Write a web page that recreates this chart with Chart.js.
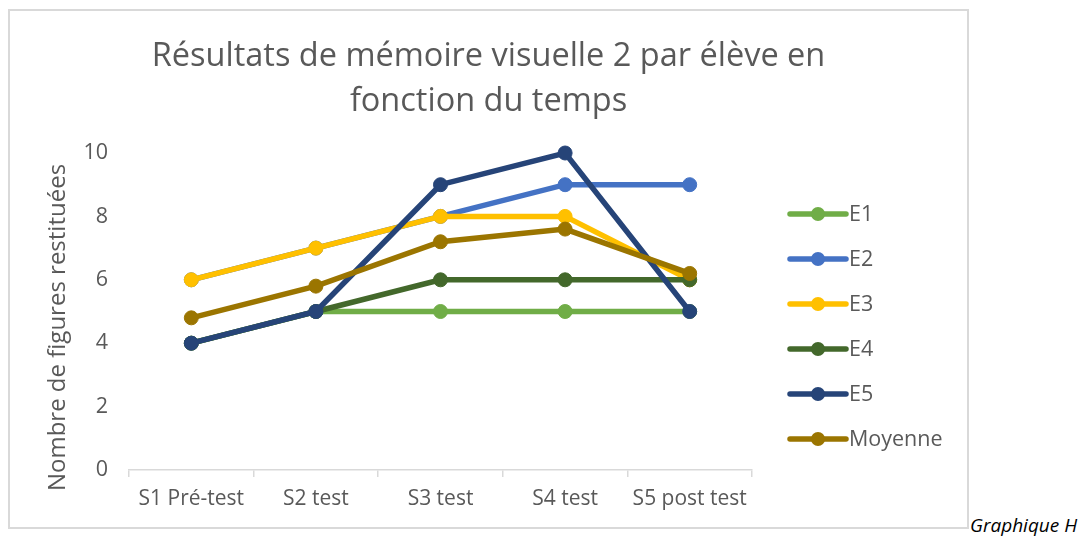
<!DOCTYPE html>
<html>
<head>
<meta charset="utf-8">
<script src="https://cdn.jsdelivr.net/npm/chart.js@4/dist/chart.umd.min.js"></script>
<style>
  html, body { margin: 0; padding: 0; background: #ffffff; }
  body { width: 1082px; height: 536px; position: relative; overflow: hidden; }
  #frame { position: absolute; left: 8px; top: 9px; width: 961px; height: 520px; box-sizing: border-box; border: 2px solid #d9d9d9; }
  #wrap { position: absolute; left: 0; top: 0; width: 957px; height: 516px; }
  #caption { position: absolute; left: 970px; top: 512px; font-family: "Open Sans", "Liberation Sans", sans-serif; font-style: italic; font-size: 19px; color: #000; white-space: nowrap; }
</style>
</head>
<body>
<div id="frame"><div id="wrap"><canvas id="c"></canvas></div></div>
<div id="caption">Graphique H</div>
<script>
const categories = ["S1 Pré-test", "S2 test", "S3 test", "S4 test", "S5 post test"];
const seriesNames = ["E1", "E2", "E3", "E4", "E5", "Moyenne"];
const e1 = [4, 5, 5, 5, 5];
const e2 = [6, 7, 8, 9, 9];
const e3 = [6, 7, 8, 8, 6];
const e4 = [4, 5, 6, 6, 6];
const e5 = [4, 5, 9, 10, 5];
const moyenne = [4.8, 5.8, 7.2, 7.6, 6.2];
const yTicks = [0, 2, 4, 6, 8, 10];
const titleLines = ["Résultats de mémoire visuelle 2 par élève en", "fonction du temps"];
const yTitle = "Nombre de figures restituées";

const colors = ["#70AD47", "#4472C4", "#FFC000", "#43682B", "#264478", "#9B7500"];
const FONT = "'Open Sans', 'Liberation Sans', sans-serif";
const TEXT = "#595959";
const allSeries = [e1, e2, e3, e4, e5, moyenne];

const datasets = allSeries.map((vals, i) => ({
  label: seriesNames[i],
  data: vals,
  borderColor: colors[i],
  backgroundColor: colors[i],
  pointBackgroundColor: colors[i],
  pointBorderColor: colors[i],
  borderWidth: 5.5,
  pointRadius: 7,
  pointHoverRadius: 7,
  pointBorderWidth: 1,
  tension: 0,
  clip: false,
  order: allSeries.length - i
}));

const legendPlugin = {
  id: 'customLegend',
  afterDraw(chart) {
    const ctx = chart.ctx;
    const x0 = 780, x1 = 836, yStart = 203, step = 45;
    chart.data.datasets.forEach((ds, i) => {
      const y = yStart + i * step;
      ctx.save();
      ctx.strokeStyle = ds.borderColor;
      ctx.lineWidth = 5.5;
      ctx.lineCap = 'round';
      ctx.beginPath(); ctx.moveTo(x0, y); ctx.lineTo(x1, y); ctx.stroke();
      ctx.fillStyle = ds.borderColor;
      ctx.beginPath(); ctx.arc((x0 + x1) / 2, y, 7, 0, Math.PI * 2); ctx.fill();
      ctx.fillStyle = TEXT;
      ctx.font = "21.5px " + FONT;
      ctx.textBaseline = 'middle';
      ctx.textAlign = 'left';
      ctx.fillText(ds.label, x1 + 3, y + 1);
      ctx.restore();
    });
  }
};

const yTitlePlugin = {
  id: 'yTitle',
  afterDraw(chart) {
    const ctx = chart.ctx;
    const ca = chart.chartArea;
    ctx.save();
    ctx.translate(48, (ca.top + ca.bottom) / 2 + 16);
    ctx.rotate(-Math.PI / 2);
    ctx.fillStyle = TEXT;
    ctx.font = "24px " + FONT;
    ctx.textAlign = 'center';
    ctx.textBaseline = 'middle';
    ctx.fillText(yTitle, 0, 0);
    ctx.restore();
  }
};

new Chart(document.getElementById('c'), {
  type: 'line',
  data: { labels: categories, datasets },
  options: {
    responsive: true,
    maintainAspectRatio: false,
    animation: false,
    events: [],
    layout: { padding: { left: 0, right: 0, top: 0, bottom: 0 } },
    plugins: {
      legend: { display: false },
      tooltip: { enabled: false },
      title: {
        display: true,
        text: titleLines,
        color: TEXT,
        font: { family: FONT, size: 32.5, weight: 'normal', lineHeight: '45px' },
        padding: { top: 23, bottom: 29 }
      }
    },
    scales: {
      x: {
        offset: true,
        afterFit(s) { s.height = 57; },
        grid: { display: true, offset: true, drawOnChartArea: false, drawTicks: true, tickLength: 7, color: '#d9d9d9', lineWidth: 1.5 },
        border: { display: true, color: '#d9d9d9', width: 1.5 },
        ticks: { color: TEXT, font: { family: FONT, size: 21 }, padding: 9, maxRotation: 0, autoSkip: false }
      },
      y: {
        min: 0, max: 10,
        afterFit(s) { s.width = 119; },
        afterBuildTicks(s) { s.ticks = yTicks.map(v => ({ value: v })); },
        grid: { display: false, drawTicks: false },
        border: { display: false },
        ticks: { color: TEXT, font: { family: FONT, size: 21.5 }, padding: 21 },
        title: { display: false }
      },
      yRight: {
        position: 'right',
        min: 0, max: 10,
        afterFit(s) { s.width = 215; },
        grid: { display: false, drawTicks: false },
        border: { display: false },
        ticks: { display: false }
      }
    }
  },
  plugins: [legendPlugin, yTitlePlugin]
});
</script>
</body>
</html>
